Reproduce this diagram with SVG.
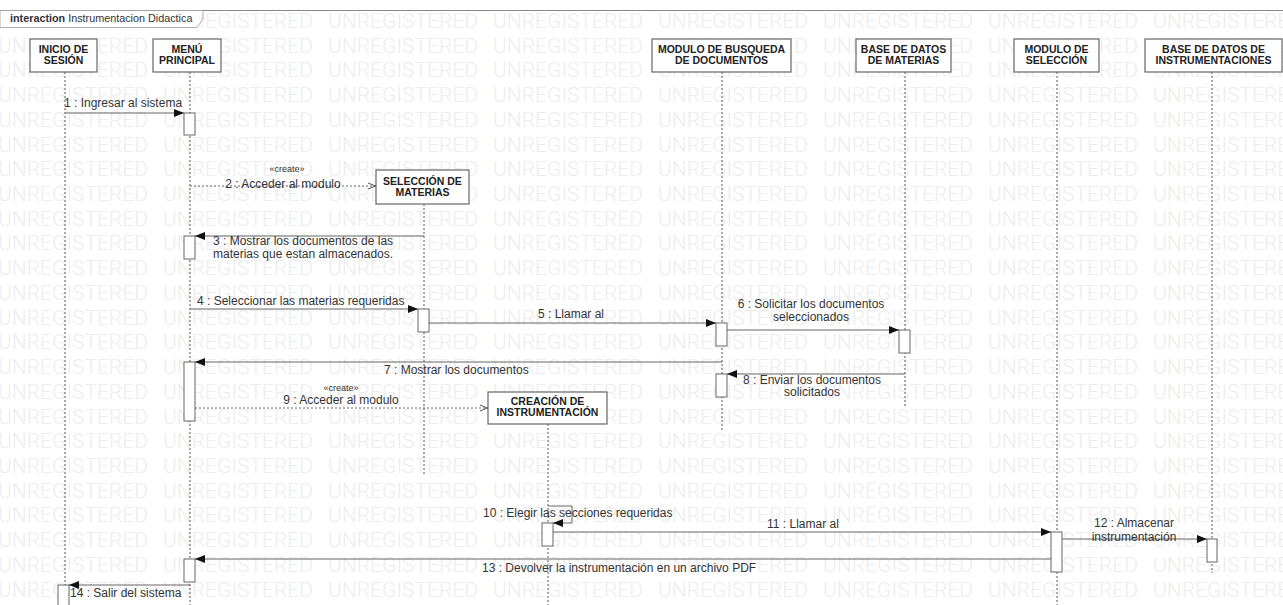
<svg xmlns="http://www.w3.org/2000/svg" xmlns:xlink="http://www.w3.org/1999/xlink" width="1283" height="605" viewBox="0 0 1283 605">
<style>
.wm{font-family:Roboto,"Liberation Sans",sans-serif;font-size:21px;font-weight:300;fill:#ededed}
.box{fill:#fff;stroke:#666;stroke-width:1.2}
.bt{font-family:"Liberation Sans",Arial,sans-serif;font-size:10.5px;font-weight:bold;fill:#222;text-anchor:middle}
.life{stroke:#555;stroke-width:1;stroke-dasharray:2 2;fill:none}
.act{fill:#fff;stroke:#666;stroke-width:1}
.msg{stroke:#666;stroke-width:1;fill:none;marker-end:url(#ah)}
.crt{stroke:#666;stroke-width:1;stroke-dasharray:2 2;fill:none;marker-end:url(#oh)}
.lbl{font-family:"Liberation Sans",Arial,sans-serif;font-size:12px;fill:#333}
.mid{text-anchor:middle}
.st{font-size:9px}
.tag{font-family:"Liberation Sans",Arial,sans-serif;font-size:10.8px;fill:#333}
</style>
<defs>
<marker id="ah" viewBox="0 0 10 8" refX="10" refY="4" markerWidth="10" markerHeight="8" markerUnits="userSpaceOnUse" orient="auto"><path d="M0,0 L10,4 L0,8 z" fill="#111"/></marker>
<marker id="oh" viewBox="0 0 8 8" refX="8" refY="4" markerWidth="8" markerHeight="8" markerUnits="userSpaceOnUse" orient="auto"><path d="M0,1 L7.5,4 L0,7" fill="none" stroke="#555" stroke-width="1"/></marker>
<text id="wmrow" class="wm" y="28"><tspan x="-2">UNREGISTERED</tspan><tspan x="163">UNREGISTERED</tspan><tspan x="328">UNREGISTERED</tspan><tspan x="493">UNREGISTERED</tspan><tspan x="658">UNREGISTERED</tspan><tspan x="823">UNREGISTERED</tspan><tspan x="988">UNREGISTERED</tspan><tspan x="1153">UNREGISTERED</tspan></text>
</defs>
<rect width="1283" height="605" fill="#fff"/>
<g id="watermark">
<use xlink:href="#wmrow" y="0"/><use xlink:href="#wmrow" y="24.72"/><use xlink:href="#wmrow" y="49.44"/><use xlink:href="#wmrow" y="74.16"/><use xlink:href="#wmrow" y="98.88"/><use xlink:href="#wmrow" y="123.6"/><use xlink:href="#wmrow" y="148.32"/><use xlink:href="#wmrow" y="173.04"/><use xlink:href="#wmrow" y="197.76"/><use xlink:href="#wmrow" y="222.48"/><use xlink:href="#wmrow" y="247.2"/><use xlink:href="#wmrow" y="271.92"/><use xlink:href="#wmrow" y="296.64"/><use xlink:href="#wmrow" y="321.36"/><use xlink:href="#wmrow" y="346.08"/><use xlink:href="#wmrow" y="370.8"/><use xlink:href="#wmrow" y="395.52"/><use xlink:href="#wmrow" y="420.24"/><use xlink:href="#wmrow" y="444.96"/><use xlink:href="#wmrow" y="469.68"/><use xlink:href="#wmrow" y="494.4"/><use xlink:href="#wmrow" y="519.12"/><use xlink:href="#wmrow" y="543.84"/><use xlink:href="#wmrow" y="568.56"/>
</g>
<g id="frame">
<line x1="0" y1="10.5" x2="1283" y2="10.5" stroke="#888" stroke-width="1"/>
<path d="M0,10.5 H203 V19 L197,27.5 H0 Z" fill="#fff" stroke="#999" stroke-width="0.8"/>
<text class="tag" x="10" y="22"><tspan font-weight="bold">interaction</tspan> Instrumentacion Didactica</text>
</g>
<g id="inicio">
<line class="life" x1="65" y1="72" x2="65" y2="605"/>
<rect class="box" x="30" y="39" width="67" height="33"/>
<text class="bt" x="63.5" y="53">INICIO DE</text><text class="bt" x="63.5" y="64">SESIÓN</text>
<rect class="act" x="58" y="585" width="11" height="25"/>
</g>
<g id="menu">
<line class="life" x1="190" y1="72" x2="190" y2="605"/>
<rect class="box" x="153" y="39" width="68" height="33"/>
<text class="bt" x="187" y="53">MENÚ</text><text class="bt" x="187" y="64">PRINCIPAL</text>
<rect class="act" x="184" y="113" width="11" height="22"/>
<rect class="act" x="184" y="236" width="11" height="23"/>
<rect class="act" x="184" y="362" width="11" height="59"/>
<rect class="act" x="184" y="559" width="11" height="23"/>
</g>
<g id="seleccion-materias">
<line class="life" x1="424" y1="204" x2="424" y2="476"/>
<rect class="box" x="376" y="170" width="93" height="34"/>
<text class="bt" x="422.5" y="185">SELECCIÓN DE</text><text class="bt" x="422.5" y="196">MATERIAS</text>
<rect class="act" x="418" y="309" width="11" height="23"/>
</g>
<g id="modulo-busqueda">
<line class="life" x1="722" y1="72" x2="722" y2="431"/>
<rect class="box" x="652" y="39" width="139" height="33"/>
<text class="bt" x="721.5" y="53">MODULO DE BUSQUEDA</text><text class="bt" x="721.5" y="64">DE DOCUMENTOS</text>
<rect class="act" x="716" y="323" width="11" height="23"/>
<rect class="act" x="716" y="374" width="11" height="23"/>
</g>
<g id="bd-materias">
<line class="life" x1="905" y1="72" x2="905" y2="408"/>
<rect class="box" x="856" y="39" width="95" height="33"/>
<text class="bt" x="903.5" y="53">BASE DE DATOS</text><text class="bt" x="903.5" y="64">DE MATERIAS</text>
<rect class="act" x="899" y="330" width="11" height="23"/>
</g>
<g id="creacion">
<line class="life" x1="548" y1="424" x2="548" y2="605"/>
<rect class="box" x="488" y="392" width="119" height="32"/>
<text class="bt" x="547.5" y="405">CREACIÓN DE</text><text class="bt" x="547.5" y="416">INSTRUMENTACIÓN</text>
<rect class="act" x="542" y="523" width="11" height="23"/>
</g>
<g id="modulo-seleccion">
<line class="life" x1="1057" y1="72" x2="1057" y2="605"/>
<rect class="box" x="1014" y="39" width="85" height="33"/>
<text class="bt" x="1056.5" y="53">MODULO DE</text><text class="bt" x="1056.5" y="64">SELECCIÓN</text>
<rect class="act" x="1051" y="532" width="11" height="40"/>
</g>
<g id="bd-instrumentaciones">
<line class="life" x1="1212" y1="72" x2="1212" y2="573"/>
<rect class="box" x="1145" y="39" width="137" height="33"/>
<text class="bt" x="1213.5" y="53">BASE DE DATOS DE</text><text class="bt" x="1213.5" y="64">INSTRUMENTACIONES</text>
<rect class="act" x="1207" y="539" width="10" height="23"/>
</g>
<g id="connectors">
<path class="msg" d="M65,113 H184"/>
<text class="lbl" x="64" y="107">1 : Ingresar al sistema</text>
<path class="crt" d="M190,186 H376"/>
<text class="lbl st mid" x="287" y="172">«create»</text>
<text class="lbl mid" x="283" y="188">2 : Acceder al modulo</text>
<path class="msg" d="M424,236 H195"/>
<text class="lbl" x="213" y="245">3 : Mostrar los documentos de las</text>
<text class="lbl" x="213" y="258">materias que estan almacenados.</text>
<path class="msg" d="M190,309 H418"/>
<text class="lbl" x="197" y="305">4 : Seleccionar las materias requeridas</text>
<path class="msg" d="M429,323 H716"/>
<text class="lbl mid" x="571" y="318">5 : Llamar al</text>
<path class="msg" d="M727,330 H899"/>
<text class="lbl mid" x="811" y="308">6 : Solicitar los documentos</text>
<text class="lbl mid" x="811" y="321">seleccionados</text>
<path class="msg" d="M722,362 H195"/>
<text class="lbl" x="384" y="374">7 : Mostrar los documentos</text>
<path class="msg" d="M905,374 H727"/>
<text class="lbl mid" x="812" y="384">8 : Enviar los documentos</text>
<text class="lbl mid" x="812" y="396">solicitados</text>
<path class="crt" d="M195,408 H488"/>
<text class="lbl st mid" x="341" y="391">«create»</text>
<text class="lbl mid" x="341" y="404">9 : Acceder al modulo</text>
<path class="msg" d="M548,506 H572 V523 H553"/>
<text class="lbl" x="483" y="517">10 : Elegir las secciones requeridas</text>
<path class="msg" d="M553,532 H1051"/>
<text class="lbl" x="767" y="528">11 : Llamar al</text>
<path class="msg" d="M1062,539 H1207"/>
<text class="lbl mid" x="1134" y="527">12 : Almacenar</text>
<text class="lbl mid" x="1134" y="541">instrumentación</text>
<path class="msg" d="M1051,559 H195"/>
<text class="lbl" x="482" y="572">13 : Devolver la instrumentación en un archivo PDF</text>
<path class="msg" d="M190,585 H69"/>
<text class="lbl" x="70" y="597">14 : Salir del sistema</text>
</g>
</svg>
